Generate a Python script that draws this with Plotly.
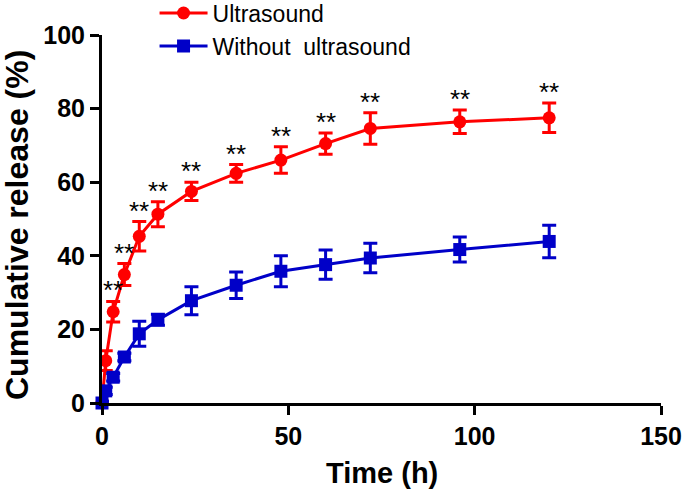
import plotly.graph_objects as go

time_h = [0, 1, 3, 6, 10, 15, 24, 36, 48, 60, 72, 96, 120]
ultra = [0, 11.5, 24.8, 34.9, 45.3, 51.3, 57.5, 62.4, 66.0, 70.5, 74.6, 76.4, 77.5]
ultra_err = [0.5, 2.7, 2.8, 3.0, 4.0, 3.4, 2.5, 2.4, 3.6, 2.9, 4.3, 3.2, 4.0]
without = [0, 3.3, 7.0, 12.5, 18.8, 22.6, 27.8, 32.0, 35.8, 37.6, 39.4, 41.7, 43.9]
without_err = [0.5, 1.0, 1.0, 1.0, 3.4, 1.5, 3.8, 3.6, 4.2, 4.0, 4.0, 3.4, 4.4]
star_times = [3, 6, 10, 15, 24, 36, 48, 60, 72, 96, 120]
x_ticks = [0, 50, 100, 150]
y_ticks = [0, 20, 40, 60, 80, 100]
x_title = "Time (h)"
y_title = "Cumulative release (%)"

RED = "#FF0000"
BLUE = "#0000C8"
FONT = "Liberation Sans, Arial"

fig = go.Figure()
fig.add_trace(go.Scatter(
    x=time_h, y=ultra, name="Ultrasound", mode="lines+markers",
    line=dict(color=RED, width=3),
    marker=dict(symbol="circle", size=13, color=RED),
    error_y=dict(type="data", array=ultra_err, color=RED, thickness=3, width=7),
    cliponaxis=False,
))
fig.add_trace(go.Scatter(
    x=time_h, y=without, name="Without  ultrasound", mode="lines+markers",
    line=dict(color=BLUE, width=3),
    marker=dict(symbol="square", size=13, color=BLUE),
    error_y=dict(type="data", array=without_err, color=BLUE, thickness=3, width=7),
    cliponaxis=False,
))

for t in star_times:
    i = time_h.index(t)
    fig.add_annotation(
        x=t, y=ultra[i] + ultra_err[i], text="**", showarrow=False,
        yanchor="bottom", yshift=-6,
        font=dict(family=FONT, size=26, color="black"),
    )

# axis titles
fig.add_annotation(
    x=0.5, xref="paper", y=0, yref="paper", text="<b>" + x_title + "</b>",
    showarrow=False, xanchor="center", yanchor="middle", yshift=-70,
    font=dict(family=FONT, size=29, color="black"),
)
fig.add_annotation(
    x=0, xref="paper", y=0.5, yref="paper", text="<b>" + y_title + "</b>",
    showarrow=False, xanchor="center", yanchor="middle", xshift=-85, yshift=-6,
    textangle=-90, font=dict(family=FONT, size=32, color="black"),
)

tick_font = dict(family=FONT, size=25, color="black", weight="bold")
fig.update_layout(
    width=685, height=493,
    margin=dict(l=102, r=24, t=35, b=90, autoexpand=False),
    paper_bgcolor="white", plot_bgcolor="white",
    showlegend=True,
    legend=dict(
        x=0.094, y=1.118, xanchor="left", yanchor="top",
        font=dict(family=FONT, size=23, color="black"),
        bgcolor="rgba(0,0,0,0)", tracegroupgap=0, itemwidth=48,
    ),
    xaxis=dict(
        range=[0, 150], tickvals=x_ticks, showgrid=False, zeroline=False,
        showline=True, linecolor="black", linewidth=3,
        ticks="outside", ticklen=9, tickwidth=3, tickcolor="black",
        tickfont=tick_font,
    ),
    yaxis=dict(
        range=[0, 100], tickvals=y_ticks, showgrid=False, zeroline=False,
        showline=True, linecolor="black", linewidth=3,
        ticks="outside", ticklen=9, tickwidth=3, tickcolor="black",
        tickfont=tick_font,
    ),
)

fig.write_html("out.html", config={"displayModeBar": False},
               post_script="document.body.style.margin='0';")
